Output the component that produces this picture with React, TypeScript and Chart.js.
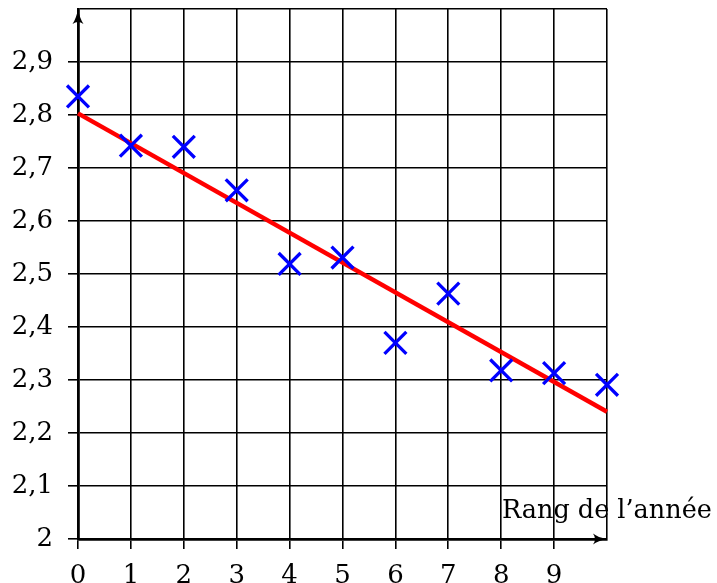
import React, { useEffect, useRef } from "react";
import { Chart, registerables } from "chart.js";

Chart.register(...registerables);

const rankValues = [0, 1, 2, 3, 4, 5, 6, 7, 8, 9, 10];
const measuredValues = [2.835, 2.742, 2.74, 2.658, 2.519, 2.531, 2.37, 2.463, 2.318, 2.313, 2.291];
const trendRanks = [0, 10];
const trendValues = [2.803, 2.24];
const axisTitle = "Rang de l\u2019année";

const FONT = "'DejaVu Serif', serif";

const arrowsPlugin = {
  id: "arrows",
  afterDraw(chart: any) {
    const { ctx, chartArea } = chart;
    const x0 = chart.scales.x.getPixelForValue(0);
    const y0 = chart.scales.y.getPixelForValue(2);
    ctx.save();
    ctx.fillStyle = "#000";
    // up arrow
    const tx = x0, ty = chartArea.top;
    ctx.beginPath();
    ctx.moveTo(tx, ty);
    ctx.quadraticCurveTo(tx + 1.5, ty + 9, tx + 5.5, ty + 15);
    ctx.quadraticCurveTo(tx, ty + 11, tx - 5.5, ty + 15);
    ctx.quadraticCurveTo(tx - 1.5, ty + 9, tx, ty);
    ctx.fill();
    // right arrow
    const rx = chartArea.right, ry = y0;
    ctx.beginPath();
    ctx.moveTo(rx, ry);
    ctx.quadraticCurveTo(rx - 9, ry + 1.5, rx - 14, ry + 5.5);
    ctx.quadraticCurveTo(rx - 10, ry, rx - 14, ry - 5.5);
    ctx.quadraticCurveTo(rx - 9, ry - 1.5, rx, ry);
    ctx.fill();
    // axis title
    ctx.font = `25.5px ${FONT}`;
    ctx.textAlign = "left";
    ctx.textBaseline = "alphabetic";
    ctx.fillText(axisTitle, 502, 518);
    ctx.restore();
  },
};

export default function App() {
  const ref = useRef<HTMLCanvasElement>(null);
  useEffect(() => {
    if (!ref.current) return;
    const chart = new Chart(ref.current, {
      type: "scatter",
      data: {
        datasets: [
          {
            type: "scatter",
            data: rankValues.map((x, i) => ({ x, y: measuredValues[i] })),
            pointStyle: "crossRot",
            pointRadius: 15.5,
            pointHoverRadius: 15.5,
            pointBorderWidth: 3.3,
            borderColor: "#0000ff",
            backgroundColor: "#0000ff",
            clip: false,
          } as any,
          {
            type: "line",
            data: trendRanks.map((x, i) => ({ x, y: trendValues[i] })),
            borderColor: "#ff0000",
            borderWidth: 4.5,
            pointRadius: 0,
            fill: false,
            clip: 4,
          } as any,
        ],
      },
      options: {
        responsive: false,
        animation: false,
        events: [],
        layout: { autoPadding: false, padding: { top: 9, right: 110, left: 0, bottom: 0 } },
        plugins: { legend: { display: false }, tooltip: { enabled: false } },
        scales: {
          x: {
            type: "linear",
            min: 0,
            max: 10,
            afterFit: (s: any) => {
              s.height = 44;
              s.paddingLeft = 0;
              s.paddingRight = 0;
            },
            ticks: {
              stepSize: 1,
              color: "#000",
              font: { family: FONT, size: 26 },
              padding: 12,
              maxRotation: 0,
              autoSkip: false,
              callback: (v: any) => (Number(v) >= 10 ? "" : String(v)),
            },
            grid: {
              color: "#000",
              lineWidth: 1.6,
              tickLength: 10,
              tickColor: (c: any) => (c.tick && c.tick.value >= 10 ? "rgba(0,0,0,0)" : "#000"),
            },
            border: { display: true, color: "#000", width: 2.8 },
          },
          y: {
            type: "linear",
            min: 2,
            max: 3,
            afterFit: (s: any) => {
              s.width = 78;
              s.paddingTop = 0;
              s.paddingBottom = 0;
            },
            ticks: {
              stepSize: 0.1,
              color: "#000",
              font: { family: FONT, size: 26 },
              padding: 15,
              autoSkip: false,
              callback: (v: any) => {
                const n = Math.round(Number(v) * 10) / 10;
                if (n >= 3) return "";
                return String(n).replace(".", ",");
              },
            },
            grid: {
              color: "#000",
              lineWidth: 1.6,
              tickLength: 10,
              tickColor: (c: any) => (c.tick && c.tick.value >= 2.999 ? "rgba(0,0,0,0)" : "#000"),
            },
            border: { display: true, color: "#000", width: 2.8 },
          },
        },
      },
      plugins: [arrowsPlugin],
    });
    return () => chart.destroy();
  }, []);
  return (
    <div style={{ position: "fixed", left: 0, top: 0, width: 717, height: 583, background: "#fff" }}>
      <canvas ref={ref} width={717} height={583} style={{ display: "block" }} />
    </div>
  );
}
